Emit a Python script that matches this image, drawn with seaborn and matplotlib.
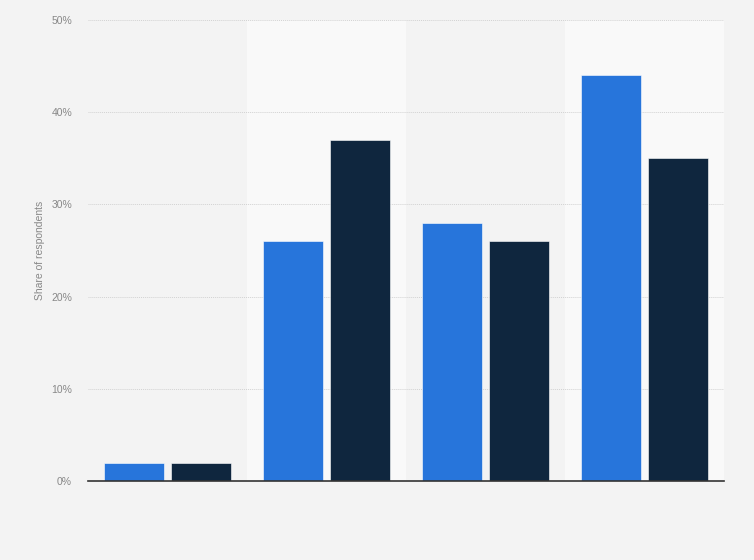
import pandas as pd
import matplotlib.pyplot as plt
import seaborn as sns
from matplotlib.ticker import PercentFormatter

# Data (x-axis labels are not shown in the reference)
groups = ['Group 1', 'Group 2', 'Group 3', 'Group 4']
series_a = [2, 26, 28, 44]
series_b = [2, 37, 26, 35]
series_names = ['Series A', 'Series B']
colors = ['#2775db', '#0f263e']

df = pd.DataFrame({
    'group': groups * 2,
    'series': [series_names[0]] * 4 + [series_names[1]] * 4,
    'share': series_a + series_b,
})

sns.set_style('white')
plt.rcParams['font.family'] = ['Liberation Sans', 'DejaVu Sans']

bg = '#f3f3f3'
fig = plt.figure(figsize=(7.54, 5.6), dpi=100, facecolor=bg)
ax = fig.add_axes([88 / 754, 1 - 481 / 560, (724 - 88) / 754, (481 - 20) / 560])
ax.set_facecolor(bg)

# alternating lighter column bands
for i in range(len(groups)):
    if i % 2 == 1:
        ax.axvspan(i - 0.5, i + 0.5, color='#f9f9f9', zorder=0, lw=0)

sns.barplot(data=df, x='group', y='share', hue='series', palette=colors,
            saturation=1, width=0.84, gap=0.1, edgecolor='white', linewidth=0.4,
            legend=False, ax=ax, zorder=3)

ax.set_xlim(-0.5, len(groups) - 0.5)
ax.set_ylim(0, 50)
ax.set_yticks(range(0, 51, 10))
ax.yaxis.set_major_formatter(PercentFormatter(decimals=0))
ax.yaxis.grid(True, linestyle=(0, (1, 1)), color='#d2d2d2', linewidth=0.7, zorder=1)
ax.set_axisbelow(True)

ax.set_xticks(range(len(groups)))
ax.set_xticklabels([''] * len(groups))
ax.tick_params(axis='x', length=0)
ax.tick_params(axis='y', length=0, labelsize=7.5, labelcolor='#888888', pad=11.5)

ax.set_xlabel('')
ax.set_ylabel('Share of respondents', fontsize=7.5, color='#888888')
ax.yaxis.set_label_coords((45 - 88) / 636, 0.5)

for side in ['top', 'right', 'left']:
    ax.spines[side].set_visible(False)
ax.spines['bottom'].set_color('#333333')
ax.spines['bottom'].set_linewidth(1.2)
ax.spines['bottom'].set_zorder(5)

fig.savefig('out.png', dpi=100, facecolor=bg)
